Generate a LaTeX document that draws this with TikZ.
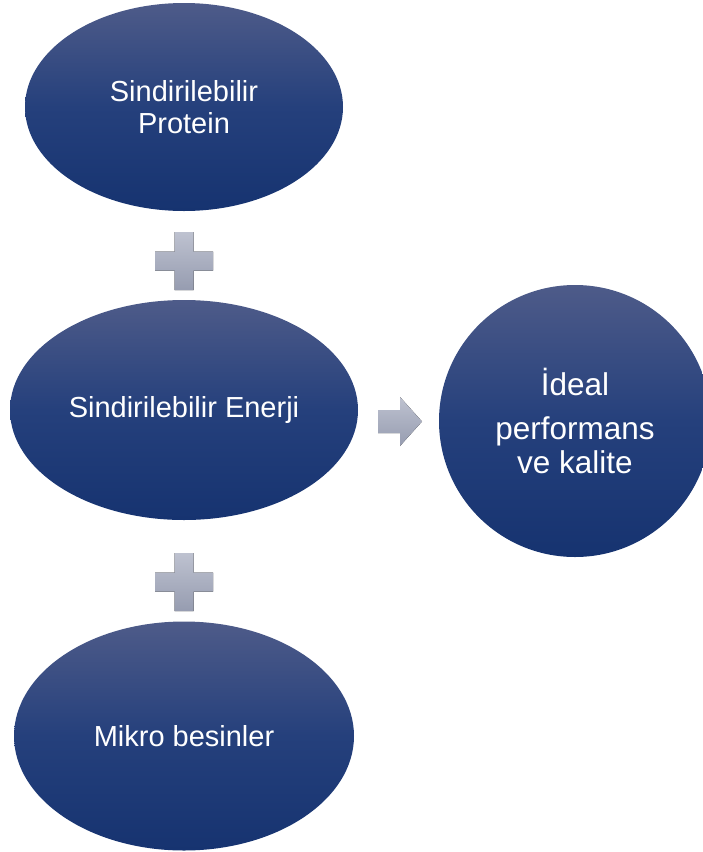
\documentclass[tikz,border=0pt]{standalone}
\usepackage{fontspec}
\setmainfont{Liberation Sans}
\usetikzlibrary{shapes.geometric}

\definecolor{blobtop}{RGB}{78,91,137}
\definecolor{blobmid}{RGB}{37,64,124}
\definecolor{blobbot}{RGB}{22,51,112}
\definecolor{plustop}{RGB}{190,194,208}
\definecolor{plusbot}{RGB}{150,156,176}

\tikzset{
  blob/.style={ellipse, inner sep=0pt, text=white, align=center,
    top color=blobtop, bottom color=blobbot, middle color=blobmid},
  plusfill/.style={top color=plustop, bottom color=plusbot, draw=none},
}

\begin{document}
\begin{tikzpicture}[x=1pt, y=-1pt]
    \useasboundingbox (0,0) rectangle (703,852);

    \node[blob, minimum width=318pt, minimum height=208pt,
          font=\fontsize{29}{31.6}\selectfont] (protein) at (184,107) {Sindirilebilir\\Protein};
    \node[blob, minimum width=348pt, minimum height=220pt,
          font=\fontsize{29}{31.6}\selectfont] (enerji) at (184,410) {Sindirilebilir Enerji};
    \node[blob, minimum width=340pt, minimum height=229pt,
          font=\fontsize{29}{31.6}\selectfont] (mikro) at (184,736) {Mikro besinler};
    \node[blob, circle, minimum size=272pt,
          font=\fontsize{31.5}{34}\selectfont] (ideal) at (575,421) {İdeal\\[10pt]performans\\ve kalite};

    % plus signs between the ellipses
    \foreach \py in {261,582}
        \fill[plusfill] (174.5,\py-29) -- (193.5,\py-29) -- (193.5,\py-9.5) -- (213,\py-9.5)
            -- (213,\py+9.5) -- (193.5,\py+9.5) -- (193.5,\py+29) -- (174.5,\py+29)
            -- (174.5,\py+9.5) -- (155,\py+9.5) -- (155,\py-9.5) -- (174.5,\py-9.5) -- cycle;

    % arrow towards the circle
    \fill[plusfill] (378,410) -- (400,410) -- (400,397) -- (422,421.5) -- (400,446)
        -- (400,433) -- (378,433) -- cycle;
\end{tikzpicture}
\end{document}
